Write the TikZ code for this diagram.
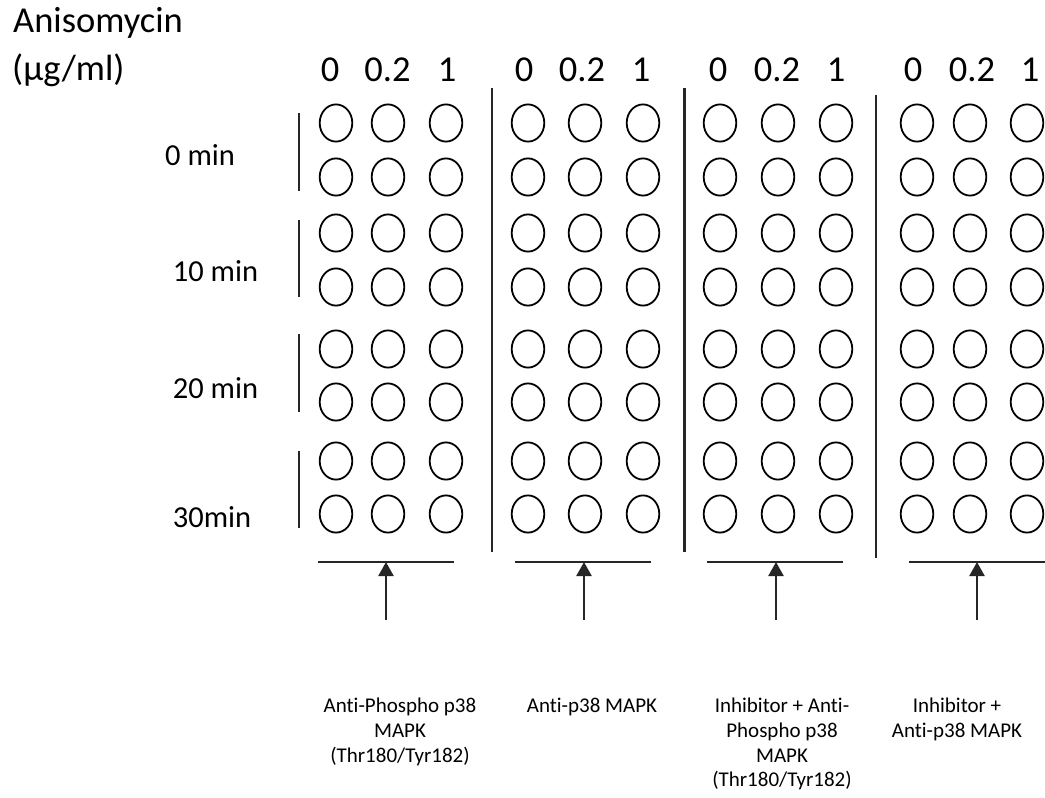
\documentclass[tikz,border=0pt]{standalone}
\usepackage{fontspec}
\setmainfont{Carlito}[Ligatures=NoCommon]
\usetikzlibrary{arrows.meta}
\begin{document}
\begin{tikzpicture}[x=1pt,y=-1pt,
  well/.style={draw=black,line width=1.8pt},
  rule/.style={draw=black!85,line width=2.2pt},
  head/.style={font=\fontsize{36.5}{43}\selectfont,inner sep=0pt,anchor=base},
  timelbl/.style={font=\fontsize{30.5}{36}\selectfont,inner sep=0pt,anchor=base west},
  ablbl/.style={font=\fontsize{21}{24.7}\selectfont,inner sep=0pt,anchor=north,align=center},
  uparrow/.style={draw=black!85,line width=2.2pt,-{Triangle[width=15pt,length=14pt]}}
]
\useasboundingbox (0,0) rectangle (1045,798);

% title
\node[head,anchor=base west] (aniso) at (13,32) {Anisomycin};
\node[head,anchor=base west] (unit) at (12,80) {(μg/ml)};

% concentration headers
\foreach \a/\b/\c [count=\p] in {330/387.5/447, 524/582/641, 718/777/836, 913/972/1030}{
  \node[head] (h\p a) at (\a,81) {0};
  \node[head] (h\p b) at (\b,81) {0.2};
  \node[head] (h\p c) at (\c,81) {1};
}

% time labels
\node[timelbl] (t0) at (165,165) {0 min};
\node[timelbl] (t10) at (172.7,281) {10 min};
\node[timelbl] (t20) at (172.7,398) {20 min};
\node[timelbl] (t30) at (172.7,527) {30min};

% time bars
\foreach \ya/\yb [count=\i] in {113/191, 220/297, 334/412, 451/528}{
  \coordinate (bt\i) at (299.3,\ya);
  \coordinate (bb\i) at (299.3,\yb);
  \draw[rule] (bt\i) -- (bb\i);
}

% panel separators
\foreach \x/\ya/\yb [count=\i] in {491.7/88/552, 684.5/88/552, 876/95/558}{
  \coordinate (st\i) at (\x,\ya);
  \coordinate (sb\i) at (\x,\yb);
  \draw[rule] (st\i) -- (sb\i);
}

% wells
\foreach \x in {336,388,446, 528,585,643, 720,778,836, 917,970,1027}{
  \foreach \y in {123,177,233,287,349,402,461,514}{
    \draw[well] (\x,\y) ellipse [x radius=16.3, y radius=18.6];
  }
}

% underlines and arrows
\foreach \l/\r/\m [count=\i] in {318/454/386, 515/651/584, 707/843/776, 909/1050/977}{
  \coordinate (ul\i) at (\l,562);
  \coordinate (ur\i) at (\r,562);
  \coordinate (ut\i) at (\m,562);
  \coordinate (ua\i) at (\m,620);
  \draw[rule] (ul\i) -- (ur\i);
  \draw[uparrow] (ua\i) -- (ut\i);
}

% antibody labels
\node[ablbl] (ab1) at (400,698) {Anti-Phospho p38\\MAPK\\(Thr180/Tyr182)};
\node[ablbl] (ab2) at (592,698) {Anti-p38 MAPK};
\node[ablbl] (ab3) at (782,698) {Inhibitor + Anti-\\Phospho p38\\MAPK\\(Thr180/Tyr182)};
\node[ablbl] (ab4) at (957,698) {Inhibitor +\\Anti-p38 MAPK};
\end{tikzpicture}
\end{document}
